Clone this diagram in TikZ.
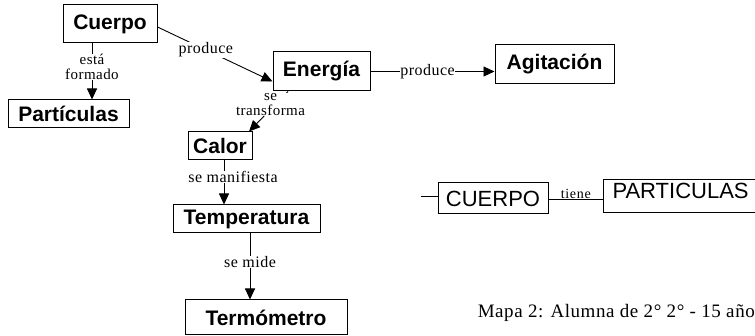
\documentclass[tikz,border=0pt]{standalone}
\usepackage{fontspec}
\setmainfont{Liberation Serif}
\newfontfamily\boxfont{Liberation Sans}
\usetikzlibrary{arrows.meta}
\begin{document}
\begin{tikzpicture}[x=1pt,y=-1pt,
  concept/.style={draw,line width=1pt,inner sep=0pt,font=\boxfont\bfseries\fontsize{21}{21}\selectfont},
  bigconcept/.style={draw,line width=1pt,inner sep=0pt,font=\boxfont\fontsize{22}{22}\selectfont},
  link/.style={font=\fontsize{16}{14}\selectfont\addfontfeatures{LetterSpace=3},fill=white,inner sep=0.5pt,align=center},
  twoline/.style={link,font=\fontsize{15}{14.5}\selectfont\addfontfeatures{LetterSpace=3}},
  conn/.style={line width=0.9pt},
  arr/.style={conn,-{Triangle[width=10pt,length=11pt]}}]
\clip (0,0) rectangle (755,336);
\path[use as bounding box] (0,0) rectangle (755,336);

\node[concept,minimum width=94pt,minimum height=38pt] (cuerpo) at (110,24) {Cuerpo};
\node[concept,minimum width=121pt,minimum height=28pt] (part) at (68.5,114) {Partículas};
\node[concept,minimum width=97pt,minimum height=39pt] (energia) at (321.5,71.5) {Energía};
\node[concept,minimum width=119pt,minimum height=39pt] (agit) at (554.5,64.5) {Agitación};
\node[concept,minimum width=64pt,minimum height=28pt] (calor) at (220,146) {Calor};
\node[concept,minimum width=147pt,minimum height=28pt] (temp) at (246.5,219) {Temperatura};
\node[concept,minimum width=162pt,minimum height=35pt] (termo) at (266,317.5) {Termómetro};
\node[bigconcept,minimum width=110pt,minimum height=31pt] (CUERPO) at (493,198.5) {CUERPO};
\node[bigconcept,anchor=north west,minimum height=33pt,text width=160pt,inner xsep=9pt,align=left,text depth=11pt] (partic) at (603,179) {PARTICULAS};

% Cuerpo -> Particulas
\draw[arr] ([xshift=-18pt]cuerpo.south) -- ([xshift=23.5pt]part.north)
  node[twoline,pos=0.42] {está\\formado};
% Cuerpo -> Energia
\draw[arr] ([yshift=-3pt]cuerpo.east) -- ([yshift=-10pt]energia.west)
  node[link,pos=0.42] {produce};
% Energia -> Calor
\draw[arr] ([xshift=-33.5pt]energia.south) -- ([xshift=29pt]calor.north)
  node[twoline,pos=0.32,xshift=-5pt] {se\\transforma};
% Energia -> Agitacion
\draw[arr] (energia.east) -- (energia.east -| agit.west)
  node[link,pos=0.46] {produce};
% Calor -> Temperatura
\draw[arr] ([xshift=4pt]calor.south) -- ([xshift=-22.5pt]temp.north)
  node[link,pos=0.38,xshift=9pt] {se manifiesta};
% Temperatura -> Termometro
\draw[arr] ([xshift=3.5pt]temp.south) -- ([xshift=-16pt]termo.north)
  node[link,pos=0.43] {se mide};
% CUERPO -- PARTICULAS
\coordinate (d) at (421,196);
\draw[conn] (d) -- (d -| CUERPO.west);
\coordinate (t) at ([yshift=-0.5pt]CUERPO.east);
\draw[conn] (t) -- (t -| partic.west)
  node[midway,above,inner sep=0pt,font=\fontsize{14}{14}\selectfont\addfontfeatures{LetterSpace=5}] {tiene};

\node[anchor=east,inner sep=0pt,font=\fontsize{19}{19}\selectfont\addfontfeatures{LetterSpace=3}] (cap) at (755,313) {Mapa 2: Alumna de 2° 2° - 15 año};
\end{tikzpicture}
\end{document}
